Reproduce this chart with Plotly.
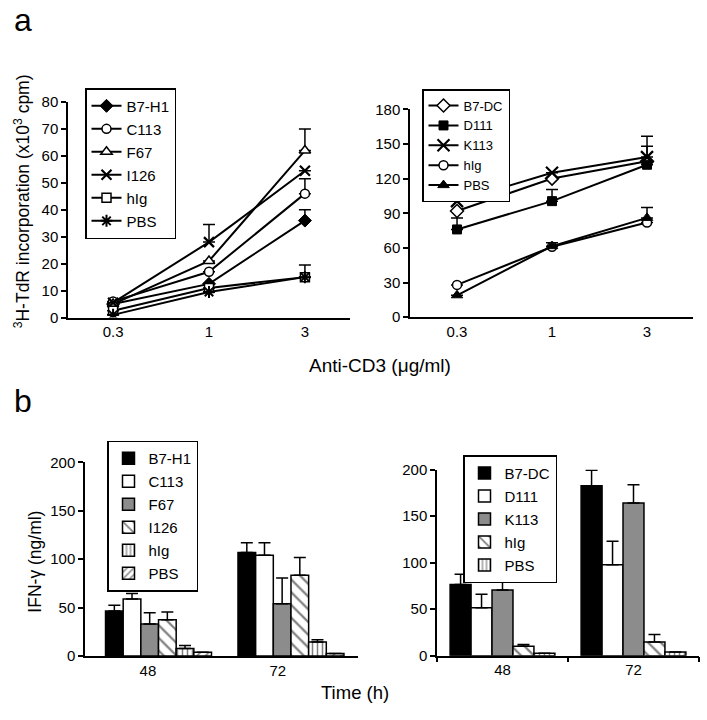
import plotly.graph_objects as go

# ---------------- data ----------------
conc = ["0.3", "1", "3"]

# panel a, left (x10^3 cpm)
a1_names = ["B7-H1", "C113", "F67", "I126", "hIg", "PBS"]
a1_b7h1 = [5.0, 12.5, 36.0]
a1_c113 = [6.0, 17.0, 46.0]
a1_f67 = [5.0, 21.0, 62.0]
a1_i126 = [5.5, 28.0, 54.5]
a1_hig = [2.5, 11.0, 15.0]
a1_pbs = [1.0, 9.5, 15.0]
a1_b7h1_err = [0, 0, 4.0]
a1_c113_err = [0, 0, 5.5]
a1_f67_err = [0, 0, 8.0]
a1_i126_err = [0, 6.5, 0]
a1_hig_err = [0, 0, 0]
a1_pbs_err = [0, 0, 4.5]

# panel a, right
a2_names = ["B7-DC", "D111", "K113", "hIg", "PBS"]
a2_b7dc = [92.0, 120.0, 135.0]
a2_d111 = [76.0, 100.5, 132.0]
a2_k113 = [100.5, 125.0, 138.6]
a2_hig = [28.0, 61.0, 82.0]
a2_pbs = [19.0, 61.5, 86.0]
a2_b7dc_err = [0, 0, 13.0]
a2_d111_err = [10.0, 10.0, 0]
a2_k113_err = [6.0, 0, 18.0]
a2_hig_err = [0, 0, 0]
a2_pbs_err = [0, 3.0, 9.0]

# panel b (IFN-gamma ng/ml)
times = ["48", "72"]
b1_names = ["B7-H1", "C113", "F67", "I126", "hIg", "PBS"]
b1_vals = [[46.4, 107.0], [58.8, 104.0], [33.0, 54.0], [37.6, 83.4], [7.7, 14.5], [4.0, 2.7]]
b1_errs = [[6.0, 10.0], [5.7, 13.0], [11.7, 26.7], [8.0, 18.4], [3.3, 2.3], [0, 0]]

b2_names = ["B7-DC", "D111", "K113", "hIg", "PBS"]
b2_vals = [[76.6, 182.5], [51.4, 97.6], [70.6, 164.0], [10.0, 14.7], [2.5, 4.0]]
b2_errs = [[10.8, 16.8], [14.6, 25.4], [9.8, 19.6], [2.0, 8.0], [0, 0]]

# ---------------- styles ----------------
FONT = "Arial, Liberation Sans, sans-serif"
W, H = 707, 720


def px_x(p):
    return p / W


def px_y(p):
    return 1 - p / H


fig = go.Figure()

a1_series = [a1_b7h1, a1_c113, a1_f67, a1_i126, a1_hig, a1_pbs]
a1_errs = [a1_b7h1_err, a1_c113_err, a1_f67_err, a1_i126_err, a1_hig_err, a1_pbs_err]
a1_markers = [
    dict(symbol="diamond", size=10, color="black", line=dict(color="black", width=1)),
    dict(symbol="circle", size=9, color="white", line=dict(color="black", width=1.5)),
    dict(symbol="triangle-up", size=10, color="white", line=dict(color="black", width=1.5)),
    dict(symbol="x-thin", size=10, color="black", line=dict(color="black", width=2.2)),
    dict(symbol="square", size=9, color="white", line=dict(color="black", width=1.5)),
    dict(symbol="asterisk", size=10, color="black", line=dict(color="black", width=2)),
]
for i, (name, vals, err, mk) in enumerate(zip(a1_names, a1_series, a1_errs, a1_markers)):
    fig.add_trace(go.Scatter(
        x=conc, y=vals, name=name, mode="lines+markers",
        line=dict(color="black", width=2), marker=mk,
        error_y=dict(type="data", array=err, arrayminus=[0] * len(err), symmetric=False,
                     color="black", thickness=1.5, width=6),
        xaxis="x", yaxis="y", legend="legend", legendgroup="a1_%d" % i,
    ))

a2_series = [a2_b7dc, a2_d111, a2_k113, a2_hig, a2_pbs]
a2_errs = [a2_b7dc_err, a2_d111_err, a2_k113_err, a2_hig_err, a2_pbs_err]
a2_markers = [
    dict(symbol="diamond", size=10, color="white", line=dict(color="black", width=1.5)),
    dict(symbol="square", size=9, color="black", line=dict(color="black", width=1)),
    dict(symbol="x-thin", size=12, color="black", line=dict(color="black", width=2.2)),
    dict(symbol="circle", size=9, color="white", line=dict(color="black", width=1.5)),
    dict(symbol="triangle-up", size=10, color="black", line=dict(color="black", width=1)),
]
for i, (name, vals, err, mk) in enumerate(zip(a2_names, a2_series, a2_errs, a2_markers)):
    fig.add_trace(go.Scatter(
        x=conc, y=vals, name=name, mode="lines+markers",
        line=dict(color="black", width=2), marker=mk,
        error_y=dict(type="data", array=err, arrayminus=[0] * len(err), symmetric=False,
                     color="black", thickness=1.5, width=6),
        xaxis="x2", yaxis="y2", legend="legend2",
    ))

b1_fills = [
    dict(color="black"),
    dict(color="white"),
    dict(color="#8c8c8c"),
    dict(color="white", pattern=dict(shape="\\", fgcolor="black", bgcolor="white", size=9, solidity=0.25)),
    dict(color="white", pattern=dict(shape="|", fgcolor="black", bgcolor="white", size=5, solidity=0.3)),
    dict(color="white", pattern=dict(shape="/", fgcolor="black", bgcolor="white", size=6, solidity=0.3)),
]
b1_x = [0, 1]
for i, (name, vals, err, fill) in enumerate(zip(b1_names, b1_vals, b1_errs, b1_fills)):
    fig.add_trace(go.Bar(
        x=b1_x, y=vals, name=name,
        marker=dict(line=dict(color="black", width=1.5), **fill),
        error_y=dict(type="data", array=err, arrayminus=[0] * len(err), symmetric=False,
                     color="black", thickness=1.5, width=6),
        xaxis="x3", yaxis="y3", legend="legend3", legendgroup="b1_%d" % i,
    ))

b2_fills = [
    dict(color="black"),
    dict(color="white"),
    dict(color="#8c8c8c"),
    dict(color="white", pattern=dict(shape="\\", fgcolor="black", bgcolor="white", size=9, solidity=0.25)),
    dict(color="white", pattern=dict(shape="|", fgcolor="black", bgcolor="white", size=5, solidity=0.3)),
]
for i, (name, vals, err, fill) in enumerate(zip(b2_names, b2_vals, b2_errs, b2_fills)):
    fig.add_trace(go.Bar(
        x=times, y=vals, name=name,
        marker=dict(line=dict(color="black", width=1.5), **fill),
        error_y=dict(type="data", array=err, arrayminus=[0] * len(err), symmetric=False,
                     color="black", thickness=1.5, width=6),
        xaxis="x4", yaxis="y4", legend="legend4", legendgroup="b2_%d" % i,
    ))

axis_common = dict(showline=True, linecolor="black", linewidth=1.5, showgrid=False,
                   zeroline=False, tickfont=dict(family=FONT, size=15, color="black"),
                   tickcolor="black", tickwidth=1.5)

legend_common = dict(bgcolor="white", bordercolor="black", borderwidth=1.5,
                     xanchor="left", yanchor="top")


def lfont(size):
    return dict(family=FONT, size=size, color="black")


ann_common = dict(xref="paper", yref="paper", showarrow=False, xanchor="center", yanchor="middle")

fig.update_layout(
    width=W, height=H,
    margin=dict(l=0, r=0, t=0, b=0),
    paper_bgcolor="white", plot_bgcolor="white",
    font=dict(family=FONT, color="black"),
    barmode="group", bargap=0.2, bargroupgap=0,
    xaxis=dict(domain=[px_x(68), px_x(350)], type="category", range=[-0.47, 2.47],
               ticks="", anchor="y", **axis_common),
    yaxis=dict(domain=[px_y(316), px_y(95.3)], range=[0, 80], dtick=10,
               ticks="outside", ticklen=5, anchor="x", **axis_common),
    xaxis2=dict(domain=[px_x(410), px_x(693)], type="category", range=[-0.495, 2.484],
                ticks="", anchor="y2", **axis_common),
    yaxis2=dict(domain=[px_y(315.7), px_y(102.7)], range=[0, 180], dtick=30,
                ticks="outside", ticklen=5, anchor="x2", **axis_common),
    xaxis3=dict(domain=[px_x(85), px_x(358)], range=[-0.555, 1.506],
                tickvals=[-0.08, 0.9], ticktext=times,
                ticks="", anchor="y3", **axis_common),
    yaxis3=dict(domain=[px_y(662.7), px_y(464.3)], range=[0, 200], dtick=50,
                ticks="outside", ticklen=5, anchor="x3", **axis_common),
    xaxis4=dict(domain=[px_x(437), px_x(699)], type="category", range=[-0.5, 1.5],
                tickson="boundaries", ticks="outside", ticklen=5, anchor="y4", **axis_common),
    yaxis4=dict(domain=[px_y(662.3), px_y(471.7)], range=[0, 200], dtick=50,
                ticks="outside", ticklen=5, anchor="x4", **axis_common),
    legend=dict(x=px_x(85), y=px_y(81), tracegroupgap=0.5, font=lfont(15), **legend_common),
    legend2=dict(x=px_x(422), y=px_y(82), font=lfont(13), **legend_common),
    legend3=dict(x=px_x(107), y=px_y(442), tracegroupgap=0.5, font=lfont(15), **legend_common),
    legend4=dict(x=px_x(463), y=px_y(457), tracegroupgap=0.5, font=lfont(15), **legend_common),
    annotations=[
        dict(text="a", x=px_x(23), y=px_y(11), font=dict(family=FONT, size=32, color="black"), **ann_common),
        dict(text="b", x=px_x(23), y=px_y(401), font=dict(family=FONT, size=32, color="black"), **ann_common),
        dict(text="<sup>3</sup>H-TdR incorporation (x10<sup>3</sup> cpm)", x=px_x(22), y=px_y(197),
             textangle=-90, font=dict(family=FONT, size=17.5, color="black"), **ann_common),
        dict(text="Anti-CD3 (μg/ml)", x=px_x(380), y=px_y(365),
             font=dict(family=FONT, size=19, color="black"), **ann_common),
        dict(text="IFN-γ (ng/ml)", x=px_x(35), y=px_y(566), textangle=-90,
             font=dict(family=FONT, size=17.5, color="black"), **ann_common),
        dict(text="Time (h)", x=px_x(355), y=px_y(700),
             font=dict(family=FONT, size=18.5, color="black"), **ann_common),
    ],
)

fig.write_html("out.html", config={"displayModeBar": False},
               post_script="document.body.style.margin='0px';")
